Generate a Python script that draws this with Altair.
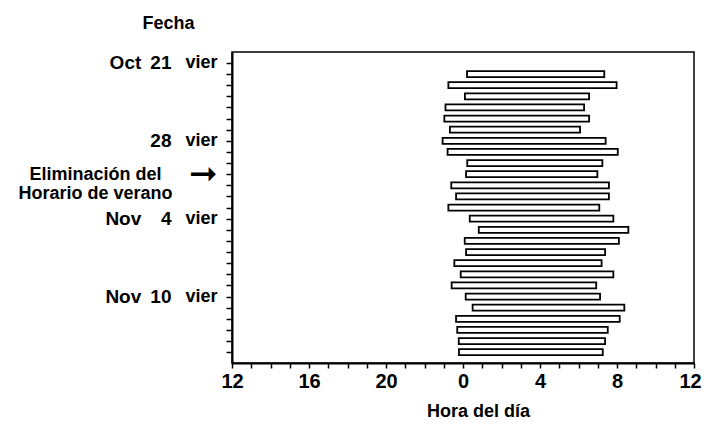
import altair as alt
import pandas as pd

# Day index (0 = Oct 21) of each sleep bar
day_index = list(range(1, 27))
# Sleep onset / wake time in hours relative to midnight (negative = before midnight)
sleep_start = [0.21, -0.76, 0.10, -0.91, -0.97, -0.68, -1.06, -0.80, 0.22, 0.16,
               -0.61, -0.36, -0.76, 0.35, 0.82, 0.09, 0.16, -0.45, -0.12, -0.59,
               0.14, 0.50, -0.36, -0.30, -0.22, -0.21]
sleep_end = [7.34, 7.98, 6.55, 6.29, 6.55, 6.08, 7.41, 8.04, 7.24, 6.98,
             7.58, 7.58, 7.08, 7.81, 8.59, 8.10, 7.38, 7.20, 7.81, 6.92,
             7.12, 8.38, 8.14, 7.52, 7.38, 7.26]

# y-axis labels
date_pos = [0, 7, 14, 21]
date_labels = ["Oct\u2009 21", "28", "Nov\u2009\u2007 4", "Nov\u2009 10"]
weekday_labels = ["vier", "vier", "vier", "vier"]
arrow_pos = 10
note_pos = [10, 11.75]
note_labels = ["Eliminación del", "Horario de verano"]

# x-axis hour ticks
hour_ticks = list(range(-12, 13))

df = pd.DataFrame({"idx": day_index, "start": sleep_start, "end": sleep_end})

FONT = "Liberation Sans"
FS = 18

def lookup_expr(positions, labels, default="''"):
    parts = []
    for p, l in zip(positions, labels):
        parts.append(f"datum.value === {p} ? '{l}' : ")
    return "".join(parts) + default

yscale = alt.Scale(domain=[-0.53, 26.52], reverse=True, nice=False, zero=False)

inner_expr = lookup_expr(date_pos + [arrow_pos], weekday_labels + ["\u279e"])
outer_expr = lookup_expr(date_pos, date_labels)
note_expr = lookup_expr(note_pos, note_labels)

arrow_test = f"datum.value === {arrow_pos}"

bars = alt.Chart(df).mark_bar(
    size=6, fill="white", stroke="black", strokeWidth=1.8, orient="horizontal"
).encode(
    x=alt.X("start:Q", scale=alt.Scale(domain=[-12, 12], nice=False, zero=False),
            axis=alt.Axis(values=hour_ticks, tickSize=5, tickWidth=1.5, tickColor="black",
                          domainColor="black", domainWidth=2, grid=False,
                          labelExpr="datum.value % 4 === 0 ? (datum.value < 0 ? datum.value + 24 : datum.value) : ''",
                          labelFont=FONT, labelFontSize=20, labelFontWeight="bold", labelColor="black",
                          labelPadding=3, labelFlush=False,
                          labelOffset={"condition": {"test": "datum.value === 12", "value": -4}, "value": 0},
                          title="Hora del día", titleFont=FONT, titleFontSize=FS,
                          titleFontWeight="bold", titleColor="black",
                          titleX=246, titleY=48, titleAlign="center", titleBaseline="middle")),
    x2="end:Q",
    y=alt.Y("idx:Q", scale=yscale,
            axis=alt.Axis(orient="left", values=list(range(0, 27)), tickSize=6, tickWidth=1.5,
                          tickColor="black", domainColor="black", domainWidth=2, grid=False,
                          labelExpr=inner_expr,
                          labelFont={"condition": {"test": arrow_test, "value": "DejaVu Sans"}, "value": FONT},
                          labelFontSize={"condition": {"test": arrow_test, "value": 34}, "value": FS},
                          labelFontWeight="bold", labelColor="black", labelPadding=9,
                          labelAlign="right", labelBaseline="middle", labelFlush=False,
                          labelOverlap=False,
                          title="Fecha", titleFont=FONT, titleFontSize=FS, titleFontWeight="bold",
                          titleColor="black", titleAngle=0, titleX=-64, titleY=-29,
                          titleAlign="center", titleBaseline="middle")),
)

outer = alt.Chart(df).mark_point(opacity=0).encode(
    y=alt.Y("idx:Q", scale=yscale,
            axis=alt.Axis(orient="left", values=date_pos, ticks=False, domain=False, grid=False,
                          labelExpr=outer_expr, labelFont=FONT, labelFontSize=19,
                          labelFontWeight="bold", labelColor="black", labelPadding=61,
                          labelAlign="right", labelBaseline="middle", labelFlush=False,
                          labelOverlap=False, title=None)),
)

notes = alt.Chart(df).mark_point(opacity=0).encode(
    y=alt.Y("idx:Q", scale=yscale,
            axis=alt.Axis(orient="left", values=note_pos, ticks=False, domain=False, grid=False,
                          labelExpr=note_expr, labelFont=FONT, labelFontSize=FS,
                          labelFontWeight="bold", labelColor="black", labelPadding=137,
                          labelAlign="center", labelBaseline="middle", labelFlush=False,
                          labelOverlap=False, title=None)),
)

chart = alt.layer(bars, outer, notes).resolve_axis(y="independent").properties(
    width=462, height=311,
    autosize=alt.AutoSizeParams(type="none"),
    padding={"left": 224, "top": 44, "right": 7, "bottom": 64},
    background="white",
).configure_view(stroke="black", strokeWidth=1.5)

chart.save("out.html", embed_options={"renderer": "svg", "actions": False})
